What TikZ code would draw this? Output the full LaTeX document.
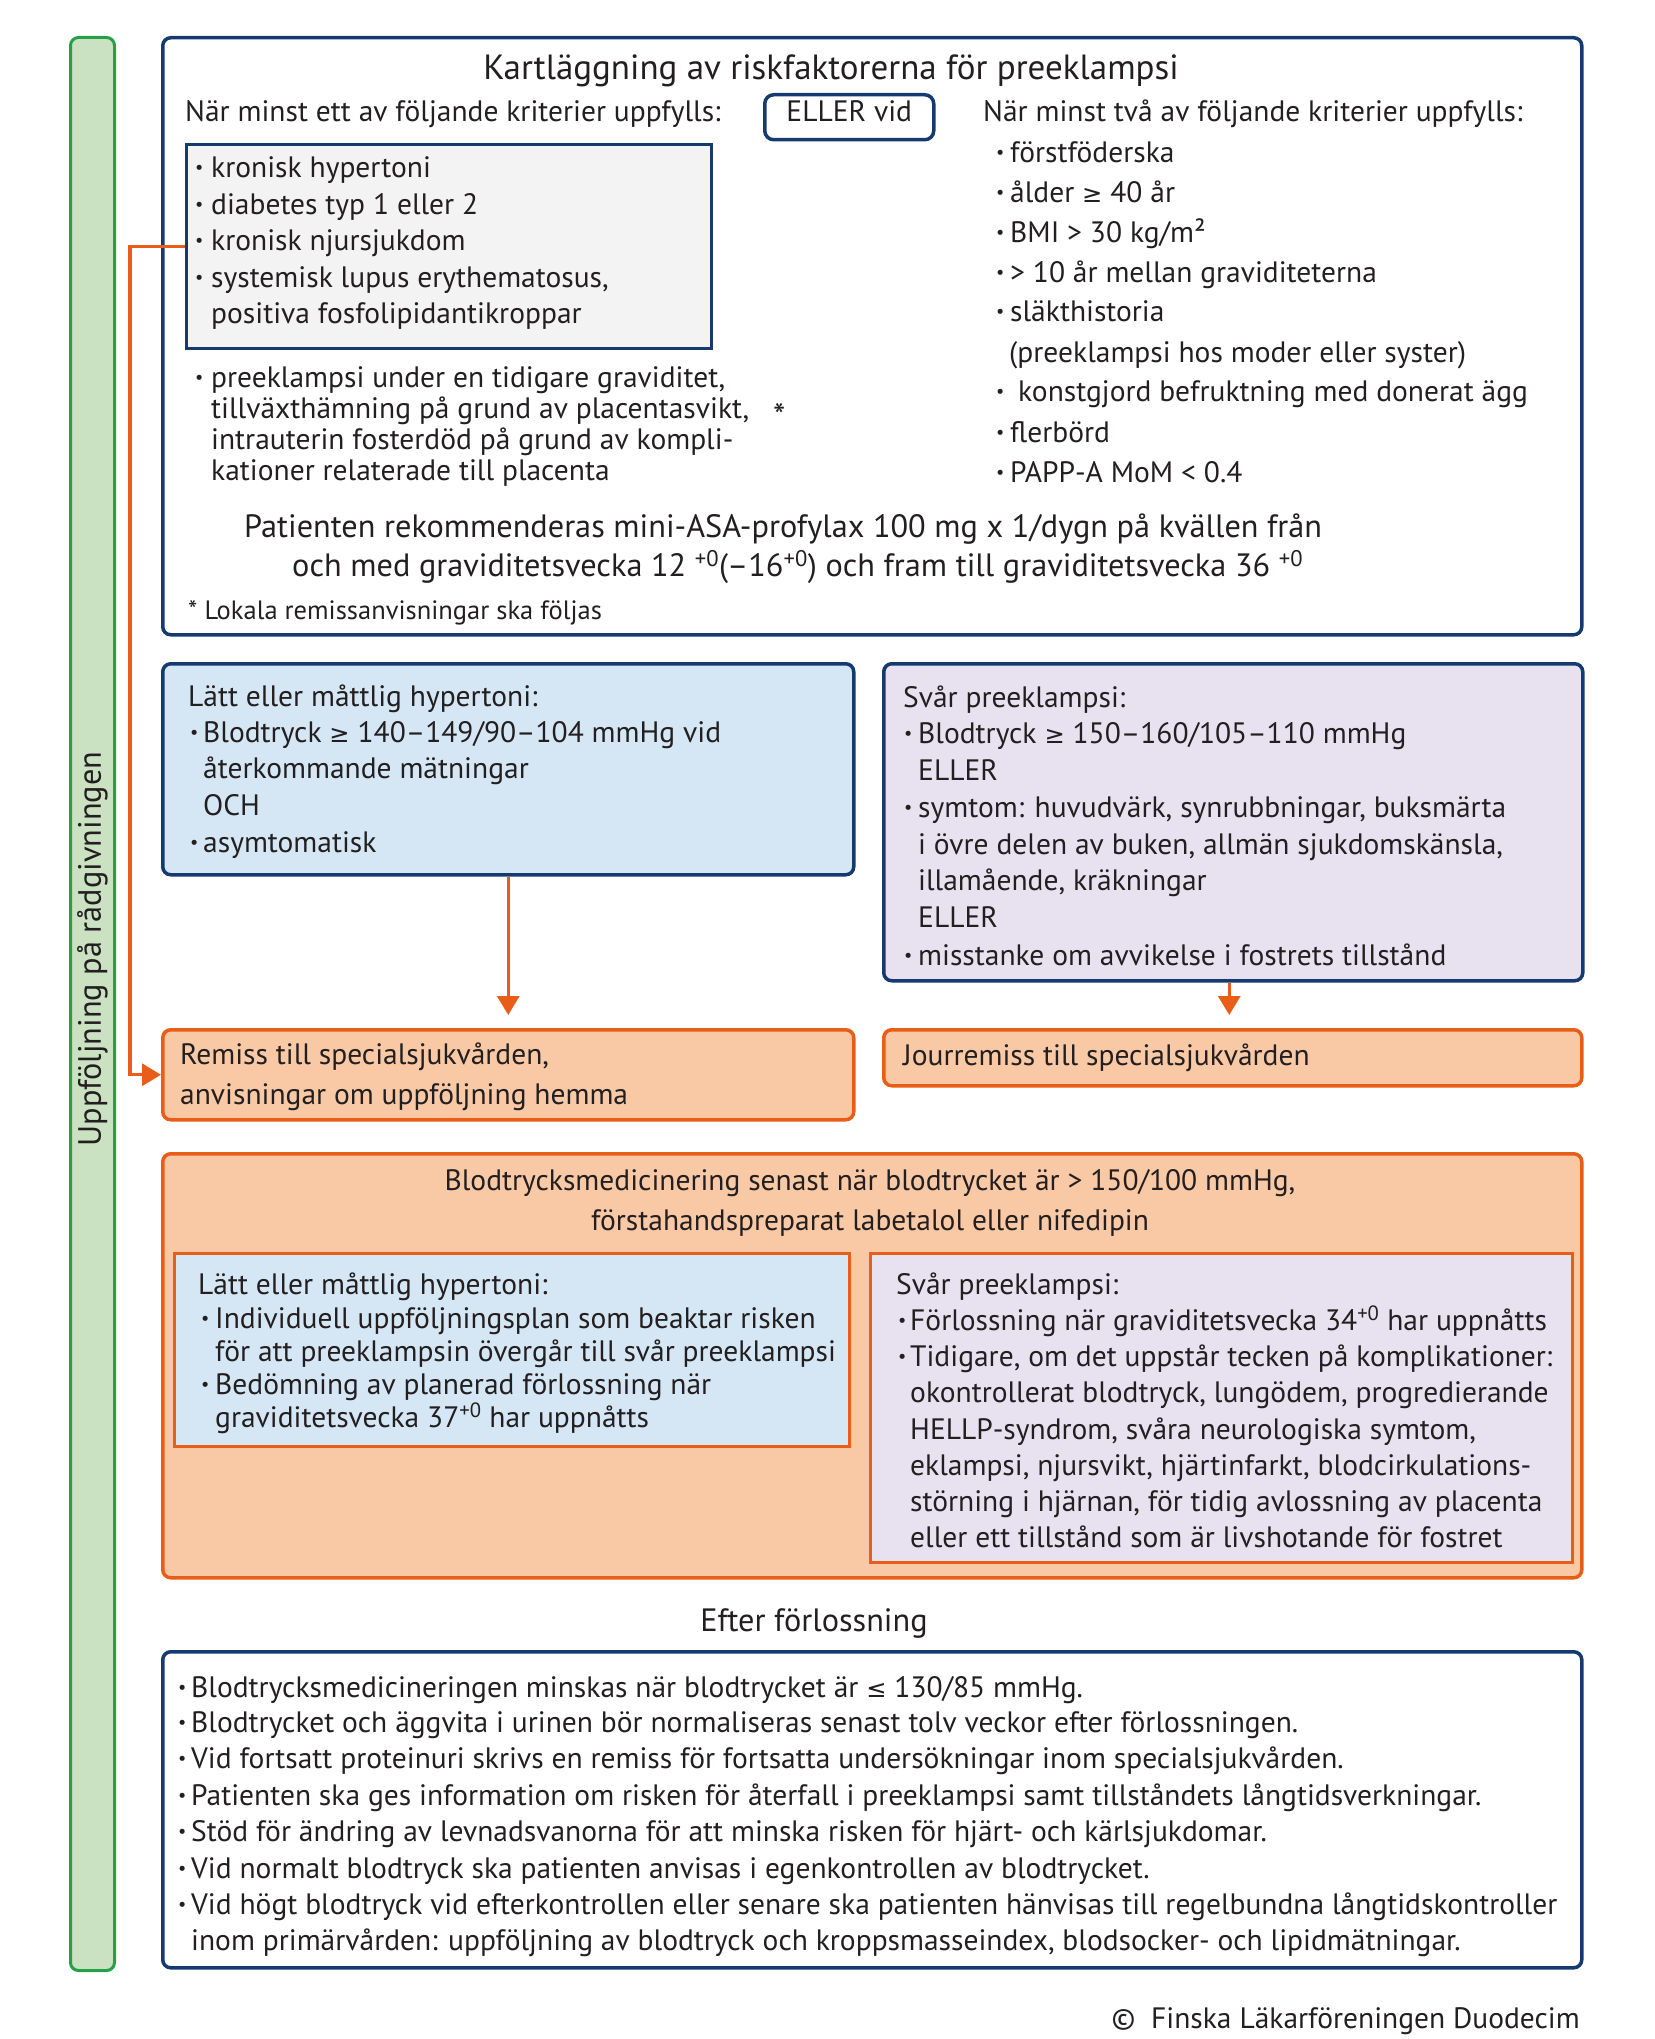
\documentclass[tikz,border=0pt]{standalone}
\usepackage{fontspec}
\usepackage{graphicx}
\setmainfont{PT Sans}
\newfontfamily\symf[Scale=0.82]{DejaVu Sans}
\usetikzlibrary{arrows.meta}
\definecolor{navy}{RGB}{20,58,112}
\definecolor{ink}{RGB}{35,31,32}
\definecolor{gfill}{RGB}{203,226,194}
\definecolor{gline}{RGB}{38,160,72}
\definecolor{grayfill}{RGB}{243,243,243}
\definecolor{bfill}{RGB}{213,231,244}
\definecolor{pfill}{RGB}{232,225,240}
\definecolor{ofill}{RGB}{249,200,164}
\definecolor{oline}{RGB}{232,94,24}
\newcommand\fs{\fontsize{29.5}{36}\selectfont}
\newcommand\fl{\fontsize{32.3}{40}\selectfont}
\newcommand\ft{\fontsize{35}{42}\selectfont}
\newcommand\fsm{\fontsize{26.5}{30}\selectfont}
\newcommand\bu{\raisebox{0.12em}{\scalebox{0.62}{•}}}
\newcommand\bl[2][14pt]{\makebox[#1][l]{\bu}#2}
\newcommand\gee{{\symf ≥}}
\newcommand\lee{{\symf ≤}}
\newcommand\sps[1]{\textsuperscript{#1}}
\begin{document}
\begin{tikzpicture}[x=1pt,y=-1pt,
  txt/.style={anchor=base west, inner sep=0pt, font=\fs, text=ink},
  ctr/.style={anchor=base, inner sep=0pt, font=\fs, text=ink},
  frame/.style={anchor=north west, inner sep=0pt},
  navybox/.style={frame, draw=navy, line width=3.5pt, rounded corners=8pt},
  orbox/.style={frame, draw=oline, fill=ofill, line width=3.5pt, rounded corners=8pt},
  inbox/.style={frame, draw=oline, line width=3pt},
  oarrow/.style={draw=oline, line width=3.2pt, -{Triangle[width=22pt,length=19pt]}}
]
\useasboundingbox (0,0) rectangle (1654,2039);

% side bar
\node[frame, draw=gline, fill=gfill, line width=3pt, rounded corners=8pt,
  minimum width=44pt, minimum height=1933pt] (side) at (69,36) {};
\node[rotate=90, inner sep=0pt, font=\fl, text=ink] (sidetxt) at ([yshift=55pt]side.center) {Uppföljning på rådgivningen};

% top box
\node[navybox, minimum width=1419pt, minimum height=597pt] (top) at (161,36) {};
\node[ctr, font=\ft] (title) at (831,80) {Kartläggning av riskfaktorerna för preeklampsi};
\node[txt] (h1) at (185,122) {När minst ett av följande kriterier uppfylls:};
\node[navybox, rounded corners=9pt, minimum width=169pt, minimum height=45pt] (eller) at (763,93) {};
\node[ctr] (ellert) at (eller.center |- 0,122) {ELLER vid};
\node[txt] (h2) at (983,122) {När minst två av följande kriterier uppfylls:};

\node[frame, draw=navy, fill=grayfill, line width=3pt, minimum width=525pt, minimum height=204pt] (gray) at (185,143) {};
\node[txt] (g1) at (195,177) {\bl[16pt]{kronisk hypertoni}};
\node[txt] (g2) at (195,214) {\bl[16pt]{diabetes typ 1 eller 2}};
\node[txt] (g3) at (195,250) {\bl[16pt]{kronisk njursjukdom}};
\node[txt] (g4) at (195,287) {\bl[16pt]{systemisk lupus erythematosus,}};
\node[txt] (g5) at (211,323) {positiva fosfolipidantikroppar};

\node[txt] (p1) at (195,387) {\bl[16pt]{preeklampsi under en tidigare graviditet,}};
\node[txt] (p2) at (211,418) {tillväxthämning på grund av placentasvikt,};
\node[txt] (p3) at (211,449) {intrauterin fosterdöd på grund av kompli-};
\node[txt] (p4) at (211,480) {kationer relaterade till placenta};
\node[txt, font=\ft] (star) at (773,428) {*};

\node[txt] (r1) at (996,162) {\bl[14pt]{förstföderska}};
\node[txt] (r2) at (996,202) {\bl[14pt]{ålder \gee\ 40 år}};
\node[txt] (r3) at (996,242) {\bl[14pt]{BMI > 30 kg/m²}};
\node[txt] (r4) at (996,282) {\bl[14pt]{> 10 år mellan graviditeterna}};
\node[txt] (r5) at (996,321) {\bl[14pt]{släkthistoria}};
\node[txt] (r6) at (1009,362) {(preeklampsi hos moder eller syster)};
\node[txt] (r7) at (996,401) {\bl[22pt]{konstgjord befruktning med donerat ägg}};
\node[txt] (r8) at (996,442) {\bl[14pt]{flerbörd}};
\node[txt] (r9) at (996,482) {\bl[14pt]{PAPP-A MoM < 0.4}};

\node[txt, font=\fl] (asa1) at (244,537) {Patienten rekommenderas mini-ASA-profylax 100 mg x 1/dygn på kvällen från};
\node[txt, font=\fl] (asa2) at (292,576) {och med graviditetsvecka 12 \sps{+0}(–16\sps{+0}) och fram till graviditetsvecka 36 \sps{+0}};
\node[txt, font=\fsm] (foot) at (188,619) {* Lokala remissanvisningar ska följas};

% middle boxes
\node[navybox, fill=bfill, minimum width=691pt, minimum height=211pt] (lb) at (161,662) {};
\node[txt] (lb0) at (188,706) {Lätt eller måttlig hypertoni:};
\node[txt] (lb1) at (190,742) {\bl[13pt]{Blodtryck \gee\ 140–149/90–104 mmHg vid}};
\node[txt] (lb2) at (203,778) {återkommande mätningar};
\node[txt] (lb3) at (203,815) {OCH};
\node[txt] (lb4) at (190,852) {\bl[13pt]{asymtomatisk}};

\node[navybox, fill=pfill, minimum width=699pt, minimum height=317pt] (pp) at (882,662) {};
\node[txt] (pp0) at (903,707) {Svår preeklampsi:};
\node[txt] (pp1) at (904,743) {\bl[14pt]{Blodtryck \gee\ 150–160/105–110 mmHg}};
\node[txt] (pp2) at (918,780) {ELLER};
\node[txt] (pp3) at (904,817) {\bl[14pt]{symtom: huvudvärk, synrubbningar, buksmärta}};
\node[txt] (pp4) at (918,854) {i övre delen av buken, allmän sjukdomskänsla,};
\node[txt] (pp5) at (918,890) {illamående, kräkningar};
\node[txt] (pp6) at (918,927) {ELLER};
\node[txt] (pp7) at (904,965) {\bl[14pt]{misstanke om avvikelse i fostrets tillstånd}};

\node[orbox, minimum width=691pt, minimum height=90pt] (remiss) at (161,1028) {};
\node[txt] (rm1) at (180,1064) {Remiss till specialsjukvården,};
\node[txt] (rm2) at (180,1104) {anvisningar om uppföljning hemma};

\node[orbox, minimum width=698pt, minimum height=56pt] (jour) at (882,1028) {};
\node[txt] (jr) at (903,1065) {Jourremiss till specialsjukvården};

\draw[oarrow, shorten >=13pt] (lb.south) -- (remiss.north);
\draw[oarrow, shorten >=13pt] ([xshift=-4pt]pp.south) -- ([xshift=-4pt]pp.south |- jour.north);
\draw[oarrow] (gray.west) -- ++(-55,0) |- (remiss.west);

% big orange box
\node[orbox, minimum width=1419pt, minimum height=424pt] (big) at (161,1152) {};
\node[ctr] (bt1) at (870,1190) {Blodtrycksmedicinering senast när blodtrycket är > 150/100 mmHg,};
\node[ctr] (bt2) at (870,1230) {förstahandspreparat labetalol eller nifedipin};

\node[inbox, fill=bfill, minimum width=675pt, minimum height=193pt] (ib) at (173,1252) {};
\node[txt] (ib0) at (198,1294) {Lätt eller måttlig hypertoni:};
\node[txt] (ib1) at (201,1328) {\bl[14pt]{Individuell uppföljningsplan som beaktar risken}};
\node[txt] (ib2) at (215,1361) {för att preeklampsin övergår till svår preeklampsi};
\node[txt] (ib3) at (201,1394) {\bl[14pt]{Bedömning av planerad förlossning när}};
\node[txt] (ib4) at (215,1427) {graviditetsvecka 37\sps{+0} har uppnåtts};

\node[inbox, fill=pfill, minimum width=702pt, minimum height=309pt] (ip) at (869,1252) {};
\node[txt] (ip0) at (896,1294) {Svår preeklampsi:};
\node[txt] (ip1) at (898,1330) {\bl[12pt]{Förlossning när graviditetsvecka 34\sps{+0} har uppnåtts}};
\node[txt] (ip2) at (898,1366) {\bl[12pt]{Tidigare, om det uppstår tecken på komplikationer:}};
\node[txt] (ip3) at (910,1402) {okontrollerat blodtryck, lungödem, progredierande};
\node[txt] (ip4) at (910,1439) {HELLP-syndrom, svåra neurologiska symtom,};
\node[txt] (ip5) at (910,1475) {eklampsi, njursvikt, hjärtinfarkt, blodcirkulations-};
\node[txt] (ip6) at (910,1511) {störning i hjärnan, för tidig avlossning av placenta};
\node[txt] (ip7) at (910,1547) {eller ett tillstånd som är livshotande för fostret};

% after delivery
\node[ctr, font=\fl] (efter) at (814,1631) {Efter förlossning};
\node[navybox, minimum width=1419pt, minimum height=316pt] (bot) at (161,1650) {};
\node[txt] (b1) at (178,1697) {\bl[13pt]{Blodtrycksmedicineringen minskas när blodtrycket är \lee\ 130/85 mmHg.}};
\node[txt] (b2) at (178,1732) {\bl[13pt]{Blodtrycket och äggvita i urinen bör normaliseras senast tolv veckor efter förlossningen.}};
\node[txt] (b3) at (178,1768) {\bl[13pt]{Vid fortsatt proteinuri skrivs en remiss för fortsatta undersökningar inom specialsjukvården.}};
\node[txt] (b4) at (178,1805) {\bl[13pt]{Patienten ska ges information om risken för återfall i preeklampsi samt tillståndets långtidsverkningar.}};
\node[txt] (b5) at (178,1841) {\bl[13pt]{Stöd för ändring av levnadsvanorna för att minska risken för hjärt- och kärlsjukdomar.}};
\node[txt] (b6) at (178,1878) {\bl[13pt]{Vid normalt blodtryck ska patienten anvisas i egenkontrollen av blodtrycket.}};
\node[txt] (b7) at (178,1914) {\bl[13pt]{Vid högt blodtryck vid efterkontrollen eller senare ska patienten hänvisas till regelbundna långtidskontroller}};
\node[txt] (b8) at (191,1950) {inom primärvården: uppföljning av blodtryck och kroppsmasseindex, blodsocker- och lipidmätningar.};

\node[anchor=base east, inner sep=0pt, font=\fs, text=ink] (copy) at (1580,2028) {©\ \ Finska Läkarföreningen Duodecim};
\end{tikzpicture}
\end{document}
